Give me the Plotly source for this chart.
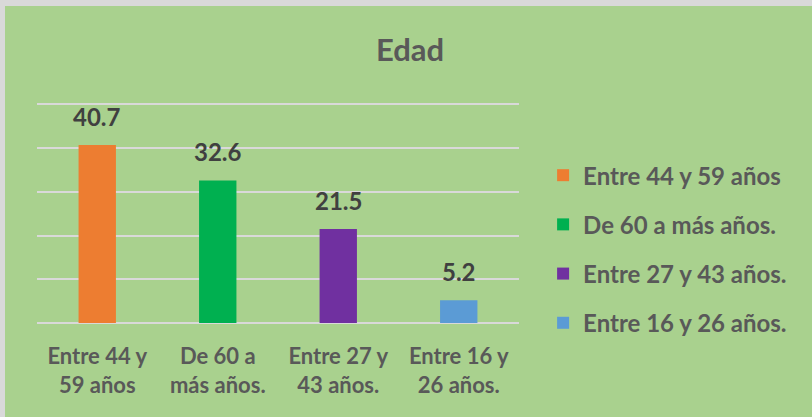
import plotly.graph_objects as go

categories = ["Entre 44 y<br>59 años", "De 60 a<br>más años.", "Entre 27 y<br>43 años.", "Entre 16 y<br>26 años."]
legend_names = ["Entre 44 y 59 años", "De 60 a más años.", "Entre 27 y 43 años.", "Entre 16 y 26 años."]
values = [40.7, 32.6, 21.5, 5.2]
colors = ["#ED7D31", "#00B050", "#7030A0", "#5B9BD5"]

FONT = "Lato"
fig = go.Figure()
for i, (cat, name, val, col) in enumerate(zip(categories, legend_names, values, colors)):
    fig.add_trace(go.Bar(
        x=[cat], y=[val], name=name, marker=dict(color=col, line=dict(width=0)),
        width=0.31, legendgroup=f"g{i}", hoverinfo="skip",
    ))
    fig.add_annotation(
        x=cat, y=val, xref="x", yref="y", text=f"{val:.1f}", showarrow=False,
        yanchor="bottom", yshift=12,
        font=dict(family=FONT, size=24, color="#404040", weight="bold"),
    )

fig.update_layout(
    width=812, height=417,
    barmode="overlay",
    paper_bgcolor="#A9D18E", plot_bgcolor="#A9D18E",
    margin=dict(l=37, r=293, t=103, b=94, autoexpand=False),
    title=dict(text="Edad", x=0.505, xref="container", xanchor="center",
               y=1 - 50/417, yref="container", yanchor="middle",
               font=dict(family=FONT, size=31, color="#595959", weight="bold")),
    xaxis=dict(categoryorder="array", categoryarray=categories, showgrid=False,
               showline=False, ticks="", ticklabelstandoff=18, automargin=False,
               tickfont=dict(family=FONT, size=22, color="#595959", weight="bold")),
    yaxis=dict(range=[0, 50.3], tickvals=[0, 10, 20, 30, 40, 50], showticklabels=False, showgrid=True,
               gridcolor="#D9D9D9", gridwidth=2, zeroline=True, zerolinecolor="#D9D9D9",
               zerolinewidth=2, showline=False, automargin=False),
    legend=dict(x=1.05, y=0.336, xanchor="left", yanchor="middle",
                traceorder="grouped", tracegroupgap=15, bgcolor="rgba(0,0,0,0)",
                font=dict(family=FONT, size=24, color="#595959", weight="bold")),
    showlegend=True,
    shapes=[
        dict(type="rect", xref="paper", yref="paper", x0=-37/482, x1=(812-37)/482,
             y0=(323-6)/220, y1=323/220, fillcolor="#D9D9D9", line=dict(width=0), layer="below"),
        dict(type="rect", xref="paper", yref="paper", x0=-37/482, x1=(5-37)/482,
             y0=(323-417)/220, y1=323/220, fillcolor="#D9D9D9", line=dict(width=0), layer="below"),
    ],
)

fig.write_html("out.html", config={"displayModeBar": False},
               post_script="document.body.style.margin='0';document.body.style.overflow='hidden';")
